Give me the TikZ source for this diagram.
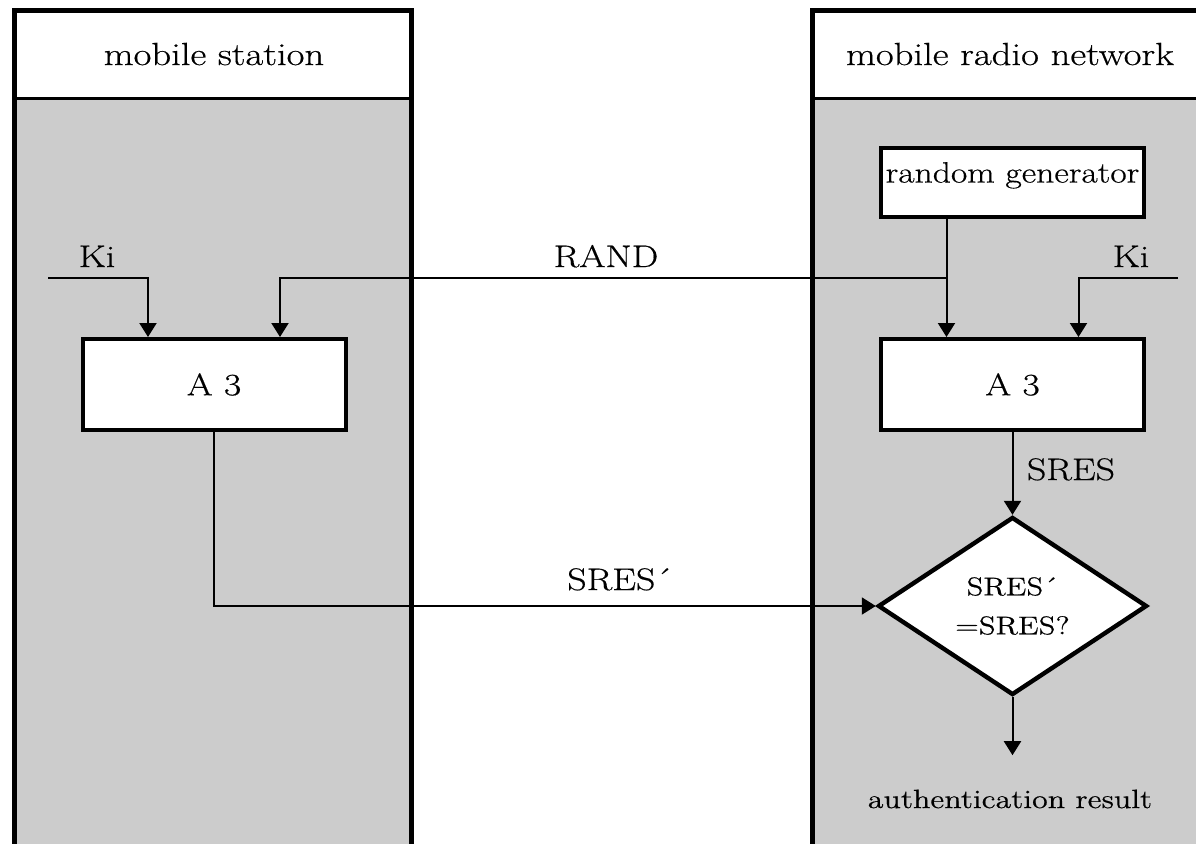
\documentclass[tikz,border=0pt]{standalone}
\usepackage{fontspec}
\setmainfont{Latin Modern Roman}[FakeStretch=1.21,FakeBold=0.5]
\usetikzlibrary{arrows.meta,shapes.geometric}
\definecolor{panelgray}{gray}{0.8}
\begin{document}
\begin{tikzpicture}[x=0.5pt,y=-0.5pt,
  lane/.style={draw=black,line width=2.5pt},
  headtext/.style={font=\fontsize{16}{18}\selectfont,inner sep=0pt,anchor=base},
  block/.style={draw,line width=2pt,fill=white,minimum width=131.5pt,
    minimum height=45.5pt,inner sep=0pt,font=\fontsize{15.5}{18}\selectfont},
  lbl/.style={font=\fontsize{15.6}{18}\selectfont,inner sep=0pt,anchor=base},
  flow/.style={line width=1pt,-{Triangle[length=7pt,width=8.5pt]}}]

\useasboundingbox (0,0) rectangle (1196,843);
\fill[white] (0,0) rectangle (1196,843);

% the two swim lanes
\begin{scope}
  \clip (0,0) rectangle (1196,843);
  \fill[panelgray] (14,98) rectangle (411,870);
  \draw[lane] (14,870) -- (14,10) -- (411,10) -- (411,870);
  \draw[line width=1.5pt] (14,98) -- (411,98);
  \fill[panelgray] (812,98) rectangle (1230,870);
  \draw[lane] (812,870) -- (812,10) -- (1230,10);
  \draw[line width=1.5pt] (812,98) -- (1230,98);
\end{scope}

\node[headtext] (msname) at (214,65) {mobile station};
\node[headtext] (nwname) at (1010,65) {mobile radio network};

% blocks
\node[block] (a3l) at (214,384.5) {A 3};
\node[block] (a3r) at (1012.5,384.5) {A 3};
\node[block,minimum height=34.5pt,text height=7pt,text depth=7pt,
  font=\fontsize{14.7}{18}\selectfont] (rng) at (1012.5,182.5) {random generator};
\node[diamond,draw,line width=2.2pt,fill=white,minimum width=134.5pt,
  minimum height=89pt,inner sep=0pt,align=center,
  font=\fontsize{12.8}{19.5}\selectfont] (cmp) at (1012.5,606) {SRES´\\=SRES?};

% connectors
\coordinate (kiL) at (48,278);
\coordinate (kiR) at (1178,278);
\path ([xshift=-33pt]rng.south) coordinate (rngout);
\coordinate (tap) at (rngout |- kiL);
\coordinate (resEnd) at ([yshift=-29pt]cmp.south);

\draw[flow] (kiL) -| ([xshift=-33pt]a3l.north);
\draw[flow] (kiR) -| ([xshift=33pt]a3r.north);
\draw[flow] (rngout) -- ([xshift=-33pt]a3r.north);
\draw[flow] (tap) -| ([xshift=33pt]a3l.north);
\draw[flow] (a3r.south) -- (cmp.north);
\draw[flow] (a3l.south) |- (cmp.west);
\draw[flow] (cmp.south) -- (resEnd);

% labels
\node[lbl] (kiLlbl) at (97,267) {Ki};
\node[lbl] (kiRlbl) at (1131,267) {Ki};
\node[lbl] (randlbl) at (606,267) {RAND};
\node[lbl] (sreslbl) at (1071,480) {SRES};
\node[lbl] (sresplbl) at (620,590) {SRES´};
\node[font=\fontsize{13.2}{16}\selectfont,inner sep=0pt,anchor=base] (result) at (1010,808) {authentication result};
\end{tikzpicture}
\end{document}
